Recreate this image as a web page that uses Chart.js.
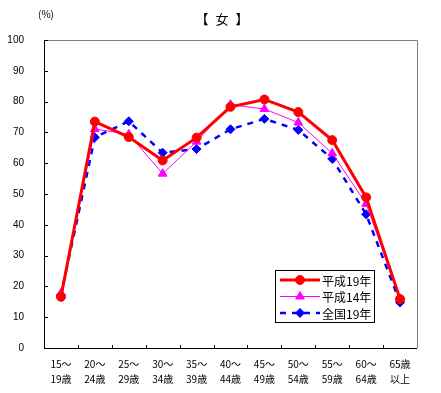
<!DOCTYPE html>
<html><head><meta charset="utf-8">
<script src="https://cdn.jsdelivr.net/npm/chart.js@4"></script>
<style>html,body{margin:0;padding:0;background:#fff}#wrap{width:441px;height:393px}</style>
</head><body><div id="wrap"><canvas id="c" width="441" height="393"></canvas></div>
<script>
const categories = [["15～","19歳"],["20～","24歳"],["25～","29歳"],["30～","34歳"],["35～","39歳"],["40～","44歳"],["45～","49歳"],["50～","54歳"],["55～","59歳"],["60～","64歳"],["65歳","以上"]];
const seriesNames = ["平成19年","平成14年","全国19年"];
const h19 = [16.6,73.5,68.5,60.9,68.3,78.3,80.7,76.6,67.5,48.9,15.9];
const h14 = [17.8,71.1,69.4,56.6,67.0,79.0,77.6,73.2,63.2,46.8,16.0];
const zenkoku19 = [17.2,68.4,73.6,63.4,64.6,71.0,74.4,70.8,61.4,43.4,14.8];
const yTicks = [0,10,20,30,40,50,60,70,80,90,100];
const title = "【 女 】";
const unit = "(%)";

const FONT = "'Noto Sans CJK JP', 'Liberation Sans', sans-serif";

const deco = {
  id: 'deco',
  afterDraw(chart) {
    const ctx = chart.ctx, a = chart.chartArea;
    const xs = chart.scales.x, ys = chart.scales.y;
    ctx.save();
    ctx.strokeStyle = '#808080'; ctx.lineWidth = 1;
    ctx.beginPath();
    ctx.moveTo(a.left, a.top + 0.5); ctx.lineTo(a.right + 0.5, a.top + 0.5); ctx.lineTo(a.right + 0.5, a.bottom);
    ctx.stroke();
    ctx.strokeStyle = '#000';
    ctx.beginPath();
    ctx.moveTo(a.left + 0.5, a.top); ctx.lineTo(a.left + 0.5, a.bottom + 0.5); ctx.lineTo(a.right, a.bottom + 0.5);
    ctx.stroke();
    ctx.beginPath();
    yTicks.forEach(v => { const y = Math.round(ys.getPixelForValue(v)) + 0.5; ctx.moveTo(a.left, y); ctx.lineTo(a.left + 4, y); });
    for (let i = 1; i < categories.length; i++) {
      const x = Math.round((xs.getPixelForValue(i - 1) + xs.getPixelForValue(i)) / 2) + 0.5;
      ctx.moveTo(x, a.bottom); ctx.lineTo(x, a.bottom - 3);
    }
    ctx.stroke();
    ctx.fillStyle = '#000';
    ctx.font = "13px " + FONT;
    ctx.textAlign = 'center'; ctx.textBaseline = 'middle';
    ctx.letterSpacing = '2px';
    ctx.fillText(title, 223, 19);
    ctx.letterSpacing = '0px';
    ctx.font = "10px " + FONT;
    ctx.fillText(unit, 46, 14);
    // legend
    const lx = 275, ly = 270, lw = 99, lh = 52;
    ctx.fillStyle = '#fff'; ctx.fillRect(lx, ly, lw, lh);
    ctx.strokeStyle = '#000'; ctx.lineWidth = 1;
    ctx.strokeRect(lx + 0.5, ly + 0.5, lw, lh);
    const ds = chart.data.datasets;
    ds.forEach((d, i) => {
      const cy = ly + 10 + i * 16.5;
      ctx.save();
      ctx.strokeStyle = d.borderColor; ctx.lineWidth = d.borderWidth;
      ctx.setLineDash(d.borderDash || []);
      ctx.beginPath(); ctx.moveTo(lx + 5, cy); ctx.lineTo(lx + 45, cy); ctx.stroke();
      ctx.restore();
      ctx.save();
      ctx.fillStyle = d.backgroundColor; ctx.strokeStyle = d.borderColor; ctx.lineWidth = 1;
      Chart.helpers.drawPoint(ctx, {pointStyle: d.pointStyle, radius: d.pointRadius, borderWidth: 1, rotation: 0}, lx + 25, cy);
      ctx.restore();
      ctx.fillStyle = '#000';
      ctx.font = "12px " + FONT; ctx.textAlign = 'left'; ctx.textBaseline = 'middle';
      ctx.fillText(d.label, lx + 47, cy + 1);
    });
    ctx.restore();
  }
};

new Chart(document.getElementById('c'), {
  type: 'line',
  data: {
    labels: categories,
    datasets: [
      {label: seriesNames[0], data: h19, borderColor: '#FF0000', backgroundColor: '#FF0000', borderWidth: 3, pointStyle: 'circle', pointRadius: 4.5, pointBorderWidth: 1, tension: 0, order: 1},
      {label: seriesNames[1], data: h14, borderColor: '#FF00FF', backgroundColor: '#FF00FF', borderWidth: 1, pointStyle: 'triangle', pointRadius: 5, pointBorderWidth: 1, tension: 0, order: 2},
      {label: seriesNames[2], data: zenkoku19, borderColor: '#0000FF', backgroundColor: '#0000FF', borderWidth: 2.5, borderDash: [6, 6], pointStyle: 'rectRot', pointRadius: 4.5, pointBorderWidth: 1, tension: 0, order: 3}
    ]
  },
  options: {
    responsive: false, animation: false,
    devicePixelRatio: 1,
    layout: {padding: {left: 0, right: 24, top: 40, bottom: 0}},
    plugins: {legend: {display: false}, tooltip: {enabled: false}, title: {display: false}},
    scales: {
      x: {
        offset: true,
        grid: {display: false},
        border: {display: false},
        ticks: {color: '#000', font: {size: 10, family: FONT, lineHeight: 1.55}, padding: 0, maxRotation: 0, autoSkip: false},
        afterFit(s) { s.height = 45; }
      },
      y: {
        min: 0, max: 100,
        afterBuildTicks(s) { s.ticks = yTicks.map(v => ({value: v})); },
        grid: {display: false},
        border: {display: false},
        ticks: {color: '#000', font: {size: 10, family: "'Liberation Sans', sans-serif"}, padding: 12},
        afterFit(s) { s.width = 44; }
      }
    }
  },
  plugins: [deco]
});
</script>
</body></html>
